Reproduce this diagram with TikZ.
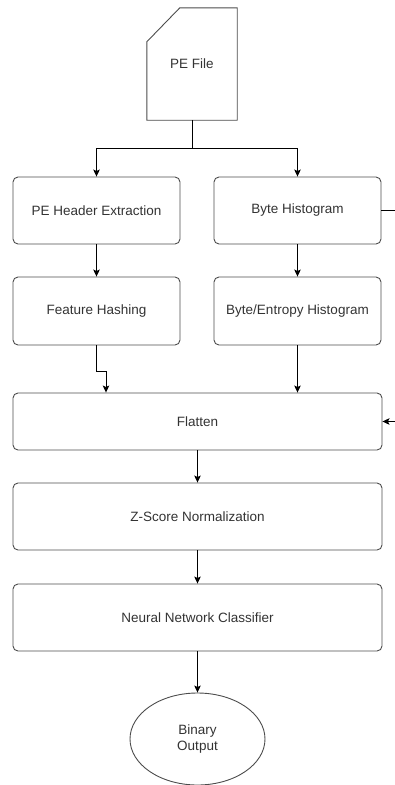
\documentclass[tikz,border=0pt]{standalone}
\usepackage{fontspec}
\setmainfont{Liberation Sans}
\usepackage{tikz}
\usetikzlibrary{shapes.geometric, arrows.meta}
\usetikzlibrary{positioning}
\definecolor{txtgray}{HTML}{333333}
\tikzstyle{stage} = [rectangle, rounded corners=5pt, minimum width=167pt, minimum height=67pt, text centered, draw=black!70, line width=0.9pt, text=txtgray]
\tikzstyle{widestage} = [stage, minimum width=369pt]
\tikzstyle{outcome} = [ellipse, minimum width=135pt, minimum height=92pt, align=center, draw=black!70, line width=0.9pt, text=txtgray]
\tikzstyle{arrow} = [line width=0.9pt,->,>={Stealth[length=7pt,width=6.5pt,inset=1.5pt]}]

\begin{document}
\begin{tikzpicture}[x=1pt,y=-1pt,font=\fontsize{13.5}{16.5}\selectfont]
	\useasboundingbox (0,0) rectangle (395,785);
	% input file
	\node [minimum width=90pt, minimum height=112pt, text=txtgray] (pe) at (192,64) {PE File};
	\draw [draw=black!70, line width=0.9pt] ([yshift=-34pt]pe.north west) -- ([xshift=33pt]pe.north west) -- (pe.north east) -- (pe.south east) -- (pe.south west) -- cycle;
	% feature branches
	\node [stage] (phe) at (96.5,210.5) {PE Header Extraction};
	\node [stage] (bh) at (297.5,210.5) {Byte Histogram};
	\node [stage, minimum height=68pt] (fh) at (96.5,311) {Feature Hashing};
	\node [stage, minimum height=68pt] (beh) at (297.5,311) {Byte/Entropy Histogram};
	% model pipeline
	\node [widestage, minimum height=57pt] (flat) at (197.5,421.5) {Flatten};
	\node [widestage] (zsn) at (197.5,516.5) {Z-Score Normalization};
	\node [widestage] (nnc) at (197.5,617.5) {Neural Network Classifier};
	\node [outcome] (out) at (197.5,739) {Binary\\Output};
	\coordinate (split) at (192,148);
	\coordinate (jog) at (106,371);
	\coordinate (rside) at (400,210.5);
	\draw [line width=0.9pt] (pe.south) -- (split);
	\draw [arrow] (split) -| (phe.north);
	\draw [arrow] (split) -| (bh.north);
	\draw [arrow] (phe) -- (fh);
	\draw [arrow] (bh) -- (beh);
	\draw [arrow] (fh.south) |- (jog) -- (jog |- flat.north);
	\draw [arrow] (beh.south) -- (beh.south |- flat.north);
	\draw [arrow] (bh.east) -- (rside) |- (flat.east);
	\draw [arrow] (flat) -- (zsn);
	\draw [arrow] (zsn) -- (nnc);
	\draw [arrow] (nnc) -- (out);
\end{tikzpicture}
\end{document}
